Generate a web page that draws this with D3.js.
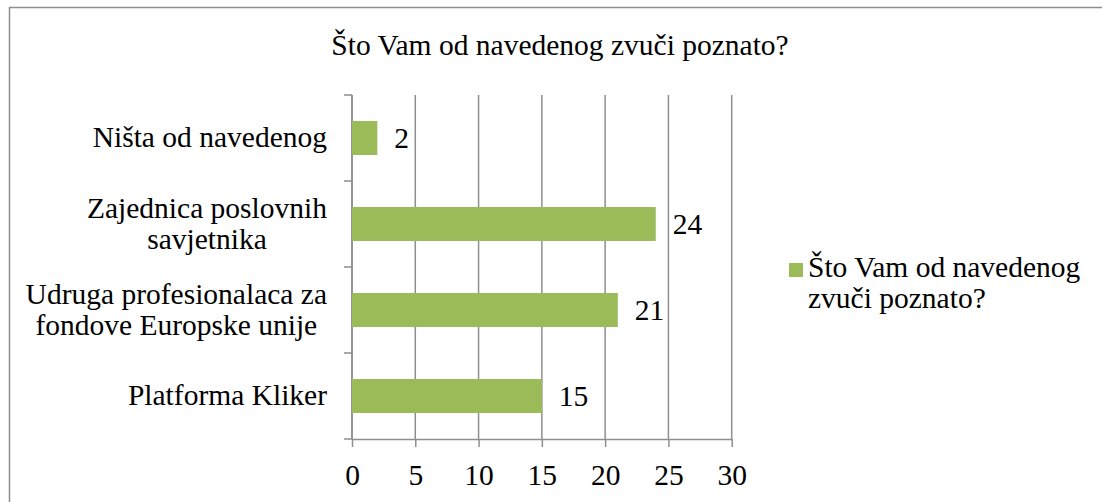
<!doctype html>
<html>
<head><meta charset="utf-8"></head>
<body style="margin:0;background:#fff">
<script src="https://d3js.org/d3.v7.min.js"></script>
<script>

var naslov = "Što Vam od navedenog zvuči poznato?";
var kategorije = ["Ništa od navedenog", "Zajednica poslovnih savjetnika", "Udruga profesionalaca za fondove Europske unije", "Platforma Kliker"];
var redovi = [["Ništa od navedenog"], ["Zajednica poslovnih", "savjetnika"], ["Udruga profesionalaca za", "fondove Europske unije"], ["Platforma Kliker"]];
var vrijednosti = [2, 24, 21, 15];
var oznake = [0, 5, 10, 15, 20, 25, 30];
var legenda = ["Što Vam od navedenog", "zvuči poznato?"];

var W = 1102, H = 502;
var font = "'Liberation Serif'";
var vel = "29.5px";
var siva = "#8e8e8e";

var svg = d3.select("body").append("svg").attr("width", W).attr("height", H);

function tekst(sel){
	return sel.attr("font-family", "Liberation Serif").style("font-family", font).style("font-size", vel).attr("fill", "#000");
}

svg.append("rect").attr("x", 9.5).attr("y", 7.5).attr("width", 2000).attr("height", 1000)
	.attr("fill", "none").attr("stroke", siva).attr("stroke-width", 1.5);

tekst(svg.append("text")).attr("x", 560).attr("y", 55).attr("text-anchor", "middle").text(naslov);

var x = d3.scaleLinear().domain([0, 30]).range([352, 731.7]);
var y = d3.scaleBand().domain(kategorije).range([95, 439]);
var vrh = 95, dno = 439;

// vertical gridlines
svg.append("g").selectAll("line").data(oznake).enter().append("line")
	.attr("x1", function(d){ return x(d) }).attr("x2", function(d){ return x(d) })
	.attr("y1", vrh).attr("y2", dno)
	.attr("stroke", siva).attr("stroke-width", 1.5);

// bottom axis
var os = svg.append("g").attr("transform", "translate(0," + dno + ")")
	.call(d3.axisBottom(x).tickValues(oznake).tickSizeInner(8).tickSizeOuter(0).tickPadding(17));
os.attr("font-family", null).attr("font-size", null);
os.select(".domain").attr("stroke", siva).attr("stroke-width", 1.5);
os.selectAll(".tick line").attr("stroke", siva).attr("stroke-width", 1.5);
tekst(os.selectAll(".tick text"));

// left axis with ticks on band edges
var rubovi = kategorije.map(function(k){ return y(k) }).concat([dno]);
svg.append("line").attr("x1", x(0)).attr("x2", x(0)).attr("y1", vrh).attr("y2", dno)
	.attr("stroke", siva).attr("stroke-width", 1.5);
svg.append("g").selectAll("line").data(rubovi).enter().append("line")
	.attr("x1", x(0) - 8).attr("x2", x(0)).attr("y1", function(d){ return d }).attr("y2", function(d){ return d })
	.attr("stroke", siva).attr("stroke-width", 1.5);

// bars
var visina = y.bandwidth() * 0.395;
svg.append("g").selectAll("rect").data(vrijednosti).enter().append("rect")
	.attr("x", x(0)).attr("y", function(d, i){ return y(kategorije[i]) + (y.bandwidth() - visina) / 2 })
	.attr("width", function(d){ return x(d) - x(0) }).attr("height", visina)
	.attr("fill", "#9bbb59");

// value labels
tekst(svg.append("g").selectAll("text").data(vrijednosti).enter().append("text"))
	.attr("x", function(d){ return x(d) + 17 })
	.attr("y", function(d, i){ return y(kategorije[i]) + y.bandwidth() / 2 + 10 })
	.text(function(d){ return d });

// category labels, lines centred on each other, block right-aligned
var desno = 327;
redovi.forEach(function(linije, i){
	var sredina = y(kategorije[i]) + y.bandwidth() / 2;
	var t = tekst(svg.append("g").selectAll("text").data(linije).enter().append("text"))
		.attr("y", function(d, j){ return sredina - (linije.length - 1) * 31 / 2 + j * 31 + 9 })
		.attr("text-anchor", "middle")
		.text(function(d){ return d });
	var sirina = d3.max(t.nodes(), function(n){ return n.getComputedTextLength() });
	t.attr("x", desno - sirina / 2);
});

// legend
svg.append("rect").attr("x", 789).attr("y", 263).attr("width", 14).attr("height", 14).attr("fill", "#9bbb59");
tekst(svg.append("g").selectAll("text").data(legenda).enter().append("text"))
	.attr("x", 808).attr("y", function(d, i){ return 277 + i * 31 })
	.text(function(d){ return d });

</script>
</body>
</html>
